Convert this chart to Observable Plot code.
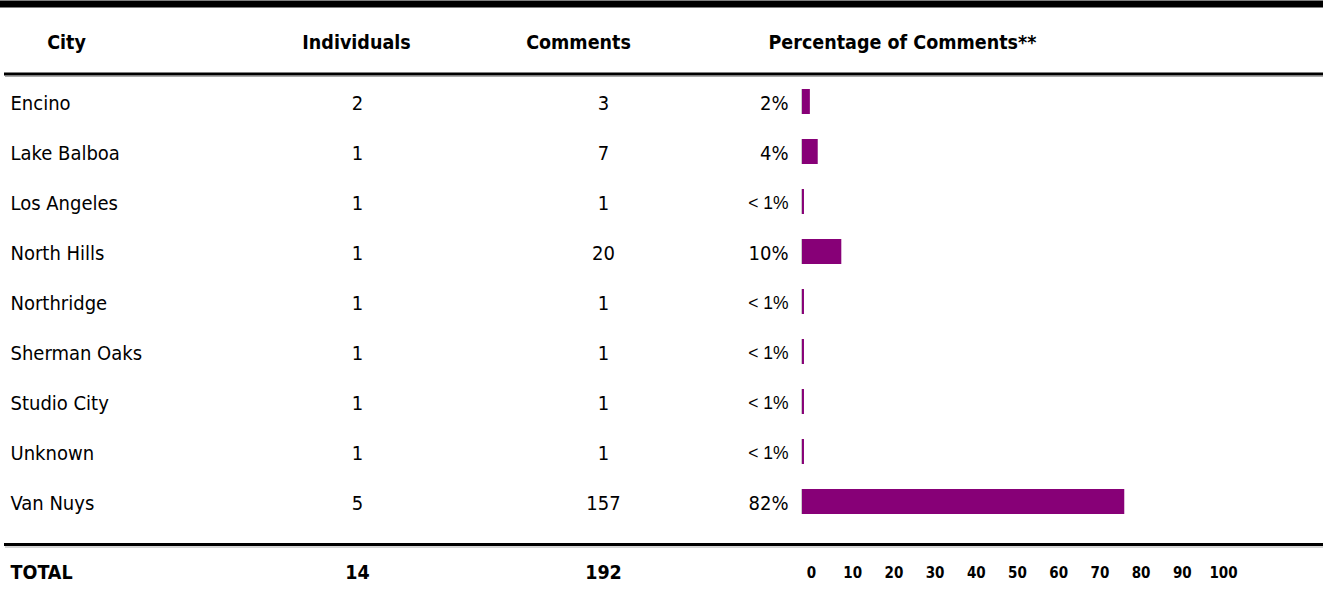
<!DOCTYPE html>
<html>
<head>
<meta charset="utf-8">
<script src="https://cdn.jsdelivr.net/npm/d3@7"></script>
<script src="https://cdn.jsdelivr.net/npm/@observablehq/plot@0.6"></script>
<style>
  html, body { margin: 0; padding: 0; background: #fff; }
  #wrap { position: relative; width: 1323px; height: 599px; overflow: hidden; }
  #wrap svg { position: absolute; left: 0; }
</style>
</head>
<body>
<div id="wrap"></div>
<script>
// ---- data ----
const headers = ["City", "Individuals", "Comments", "Percentage of Comments**"];
const cities = ["Encino", "Lake Balboa", "Los Angeles", "North Hills", "Northridge", "Sherman Oaks", "Studio City", "Unknown", "Van Nuys"];
const individuals = [2, 1, 1, 1, 1, 1, 1, 1, 5];
const comments = [3, 7, 1, 20, 1, 1, 1, 1, 157];
const percentLabels = ["2%", "4%", "< 1%", "10%", "< 1%", "< 1%", "< 1%", "< 1%", "82%"];
const percentValues = [2, 4, 0.5, 10, 0.5, 0.5, 0.5, 0.5, 82];
const totalLabel = "TOTAL";
const totalIndividuals = 14;
const totalComments = 192;
const axisTicks = [0, 10, 20, 30, 40, 50, 60, 70, 80, 90, 100];

const rows = cities.map((city, i) => ({
  city,
  individuals: individuals[i],
  comments: comments[i],
  label: percentLabels[i],
  pct: percentValues[i]
}));

// ---- layout ----
const W = 1323, H = 599;
const mL = 802, mR = 128, mT = 73.1, mB = 69.1;
const FONT = "DejaVu Sans Condensed";
const purple = "#870077";

const colCity = 10, colInd = 357, colCom = 603, colPct = 788;
const hdrCity = 66, hdrInd = 356, hdrCom = 578, hdrPct = 768;
const headerY = 42, totalY = 572, rowDy = 1.5;

function headerText(str, xPos, anchor) {
  return Plot.text([str], {
    text: d => d, frameAnchor: "top-left", dx: xPos - mL, dy: headerY - mT,
    textAnchor: anchor, lineAnchor: "middle", fontWeight: "bold", fontSize: 19.5, fill: "#000"
  });
}
function totalText(str, xPos, anchor) {
  return Plot.text([str], {
    text: d => String(d), frameAnchor: "bottom-left", dx: xPos - mL, dy: totalY - (H - mB),
    textAnchor: anchor, lineAnchor: "middle", fontWeight: "bold", fontSize: 19.5, fill: "#000"
  });
}
function rowText(field, xPos, anchor, opts = {}) {
  return Plot.text(rows, {
    y: "city", text: field, frameAnchor: "left", dx: xPos - mL, dy: rowDy,
    textAnchor: anchor, lineAnchor: "middle", fontSize: 20, fill: "#000", ...opts
  });
}

const main = Plot.plot({
  width: W, height: H,
  marginLeft: mL, marginRight: mR, marginTop: mT, marginBottom: mB,
  style: { fontFamily: FONT, background: "transparent", color: "#000" },
  x: { domain: [0, 100], axis: null },
  y: { domain: cities, paddingInner: 0.5, paddingOuter: 0.25, axis: null },
  marks: [
    // table rules
    Plot.frame({ anchor: "top", stroke: "#000", strokeWidth: 7, insetTop: 3.5 - mT, insetLeft: -mL, insetRight: -mR }),
    Plot.frame({ anchor: "top", stroke: "#000", strokeWidth: 3, insetTop: 73.5 - mT, insetLeft: 5 - mL, insetRight: -mR }),
    Plot.frame({ anchor: "top", stroke: "#aaa", strokeWidth: 1, insetTop: 76 - mT, insetLeft: 5 - mL, insetRight: -mR }),
    Plot.frame({ anchor: "bottom", stroke: "#000", strokeWidth: 3, insetBottom: (H - mB) - 544, insetLeft: 5 - mL, insetRight: -mR }),
    Plot.frame({ anchor: "bottom", stroke: "#aaa", strokeWidth: 1, insetBottom: (H - mB) - 546.5, insetLeft: 5 - mL, insetRight: -mR }),
    // headers
    headerText(headers[0], hdrCity, "middle"),
    headerText(headers[1], hdrInd, "middle"),
    headerText(headers[2], hdrCom, "middle"),
    headerText(headers[3], hdrPct, "start"),
    // rows
    rowText("city", colCity, "start"),
    rowText("individuals", colInd, "middle"),
    rowText("comments", colCom, "middle"),
    Plot.text(rows.filter(d => !d.label.startsWith("<")), {
      y: "city", text: "label", frameAnchor: "left", dx: colPct - mL, dy: rowDy,
      textAnchor: "end", lineAnchor: "middle", fontSize: 20, fill: "#000"
    }),
    Plot.text(rows.filter(d => d.label.startsWith("<")), {
      y: "city", text: "label", frameAnchor: "left", dx: colPct - mL, dy: rowDy,
      textAnchor: "end", lineAnchor: "middle", fontSize: 17.5, fill: "#000",
      fontFamily: "Liberation Sans"
    }),
    // bars
    Plot.tickX(rows, { x: 0, y: "city", stroke: "#999", strokeWidth: 1, dx: -0.5 }),
    Plot.barX(rows, { x: "pct", y: "city", fill: purple }),
    // totals
    totalText(totalLabel, colCity, "start"),
    totalText(totalIndividuals, colInd, "middle"),
    totalText(totalComments, colCom, "middle")
  ]
});
main.style.top = "0px";

// separate percentage scale shown in the total row
const axisH = 50, axisTop = 547;
const axis = Plot.plot({
  width: W, height: axisH,
  marginLeft: 811, marginRight: W - 1223, marginTop: 0, marginBottom: 33,
  style: { fontFamily: FONT, background: "transparent", color: "#000" },
  x: { domain: [0, 100], axis: null },
  marks: [
    Plot.axisX(axisTicks, { anchor: "bottom", tickSize: 0, tickPadding: 3, fontSize: 15, fontWeight: "bold", fill: "#000" })
  ]
});
axis.style.top = axisTop + "px";

const wrap = document.getElementById("wrap");
wrap.appendChild(main);
wrap.appendChild(axis);
</script>
</body>
</html>
